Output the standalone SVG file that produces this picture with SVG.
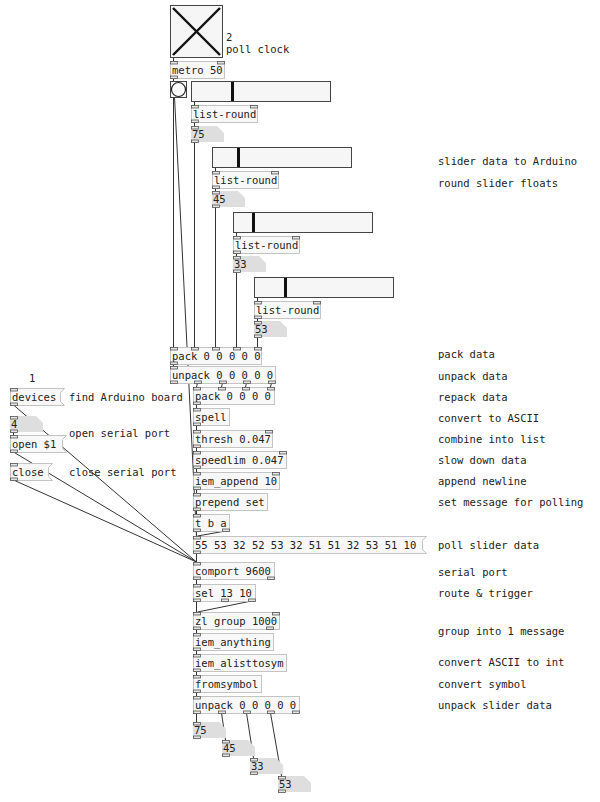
<svg xmlns="http://www.w3.org/2000/svg" width="600" height="802" viewBox="0 0 600 802">
<style>
.obj{fill:#f8f8f8;stroke:#c4c4c4;stroke-width:1}
.nb{fill:#dedede;stroke:none}
.io{fill:#e4e4e4;stroke:#555;stroke-width:0.8}
.gui{fill:#f6f6f6;stroke:#444;stroke-width:1}
.t{font-family:"DejaVu Sans Mono","Liberation Mono",monospace;font-size:10.5px;fill:#222}
.cm{font-family:"DejaVu Sans Mono","Liberation Mono",monospace;font-size:10.5px;fill:#222}
.wire{stroke:#333;stroke-width:1;fill:none}
</style>
<rect width="600" height="802" fill="#ffffff"/>

<g id="connectors">
<line class="wire" x1="173.5" y1="57" x2="173.5" y2="61"/>
<line class="wire" x1="173.5" y1="78" x2="173.5" y2="81"/>
<line class="wire" x1="173.5" y1="97" x2="173.5" y2="347"/>
<line class="wire" x1="174.5" y1="97" x2="196.5" y2="536"/>
<line class="wire" x1="194.5" y1="101" x2="194.5" y2="105"/>
<line class="wire" x1="194.5" y1="122" x2="194.5" y2="126"/>
<line class="wire" x1="194.5" y1="142" x2="194.5" y2="347"/>
<line class="wire" x1="215.5" y1="167" x2="215.5" y2="171"/>
<line class="wire" x1="215.5" y1="188" x2="215.5" y2="191"/>
<line class="wire" x1="215.5" y1="207" x2="215.5" y2="347"/>
<line class="wire" x1="236.5" y1="232" x2="236.5" y2="236"/>
<line class="wire" x1="236.5" y1="253" x2="236.5" y2="256"/>
<line class="wire" x1="236.5" y1="272" x2="236.5" y2="347"/>
<line class="wire" x1="257.5" y1="297" x2="257.5" y2="301"/>
<line class="wire" x1="257.5" y1="318" x2="257.5" y2="321"/>
<line class="wire" x1="257.5" y1="337" x2="257.5" y2="347"/>
<line class="wire" x1="173.5" y1="364" x2="173.5" y2="366"/>
<line class="wire" x1="197.5" y1="383" x2="196.5" y2="387"/>
<line class="wire" x1="222.5" y1="383" x2="221.5" y2="387"/>
<line class="wire" x1="246.5" y1="383" x2="245.5" y2="387"/>
<line class="wire" x1="271.5" y1="383" x2="270.5" y2="387"/>
<line class="wire" x1="196.5" y1="404" x2="196.5" y2="408"/>
<line class="wire" x1="196.5" y1="425" x2="196.5" y2="430"/>
<line class="wire" x1="196.5" y1="447" x2="196.5" y2="451"/>
<line class="wire" x1="196.5" y1="468" x2="196.5" y2="472"/>
<line class="wire" x1="196.5" y1="489" x2="196.5" y2="493"/>
<line class="wire" x1="196.5" y1="510" x2="196.5" y2="514"/>
<line class="wire" x1="196.5" y1="531" x2="196.5" y2="536"/>
<line class="wire" x1="225.5" y1="531" x2="197.5" y2="536"/>
<line class="wire" x1="196.5" y1="553" x2="196.5" y2="562"/>
<line class="wire" x1="13.5" y1="405" x2="196.5" y2="562"/>
<line class="wire" x1="13.5" y1="432" x2="13.5" y2="435"/>
<line class="wire" x1="13.5" y1="452" x2="196.5" y2="562"/>
<line class="wire" x1="13.5" y1="480" x2="196.5" y2="562"/>
<line class="wire" x1="196.5" y1="579" x2="196.5" y2="584"/>
<line class="wire" x1="196.5" y1="601" x2="196.5" y2="612"/>
<line class="wire" x1="251.5" y1="601" x2="197.5" y2="612"/>
<line class="wire" x1="196.5" y1="629" x2="196.5" y2="633"/>
<line class="wire" x1="196.5" y1="650" x2="196.5" y2="654"/>
<line class="wire" x1="196.5" y1="671" x2="196.5" y2="675"/>
<line class="wire" x1="196.5" y1="692" x2="196.5" y2="696"/>
<line class="wire" x1="196.5" y1="713" x2="196.5" y2="722"/>
<line class="wire" x1="221.5" y1="713" x2="225.5" y2="740"/>
<line class="wire" x1="246.5" y1="713" x2="253.5" y2="758"/>
<line class="wire" x1="270.5" y1="713" x2="281.5" y2="776"/>
</g>

<g id="toggle">
<rect class="gui" x="170.5" y="5.5" width="52" height="52"/>
<line x1="173" y1="8" x2="220" y2="55" stroke="#111" stroke-width="2.4"/>
<line x1="220" y1="8" x2="173" y2="55" stroke="#111" stroke-width="2.4"/>
<text class="t" x="226" y="41">2</text>
<text class="t" x="226" y="53">poll clock</text>
</g>

<g id="metro">
<rect class="obj" x="170.5" y="61.5" width="54" height="17"/>
<rect class="io" x="170.5" y="61.5" width="7" height="2.5"/>
<rect class="io" x="217.5" y="61.5" width="7" height="2.5"/>
<rect class="io" x="170.5" y="76" width="7" height="2.5"/>
<text class="t" x="172" y="74">metro 50</text>
</g>

<g id="bang">
<rect class="gui" x="170.5" y="81.5" width="16" height="16"/>
<circle cx="178.5" cy="89.5" r="7" fill="#fff" stroke="#222" stroke-width="1.2"/>
</g>

<g id="slider1">
<rect class="gui" x="191.5" y="81.5" width="139" height="20"/>
<rect x="231" y="82" width="3" height="19" fill="#111"/>
</g>
<g id="listround1">
<rect class="obj" x="191.5" y="105.5" width="66" height="17"/>
<rect class="io" x="191.5" y="105.5" width="7" height="2.5"/>
<rect class="io" x="250.5" y="105.5" width="7" height="2.5"/>
<rect class="io" x="191.5" y="120" width="7" height="2.5"/>
<text class="t" x="193" y="118">list-round</text>
</g>
<g id="num75">
<path class="nb" d="M191 126H217L224 133V142H191Z"/>
<rect class="io" x="191.5" y="126.5" width="7" height="2.5"/>
<rect class="io" x="191.5" y="140" width="7" height="2.5"/>
<text class="t" x="192" y="138">75</text>
</g>

<g id="slider2">
<rect class="gui" x="212.5" y="147.5" width="139" height="20"/>
<rect x="237" y="148" width="3" height="19" fill="#111"/>
</g>
<g id="listround2">
<rect class="obj" x="212.5" y="171.5" width="66" height="17"/>
<rect class="io" x="212.5" y="171.5" width="7" height="2.5"/>
<rect class="io" x="271.5" y="171.5" width="7" height="2.5"/>
<rect class="io" x="212.5" y="186" width="7" height="2.5"/>
<text class="t" x="214" y="184">list-round</text>
</g>
<g id="num45">
<path class="nb" d="M212 191H238L245 198V207H212Z"/>
<rect class="io" x="212.5" y="191.5" width="7" height="2.5"/>
<rect class="io" x="212.5" y="205" width="7" height="2.5"/>
<text class="t" x="213" y="203">45</text>
</g>

<g id="slider3">
<rect class="gui" x="233.5" y="212.5" width="139" height="20"/>
<rect x="252" y="213" width="3" height="19" fill="#111"/>
</g>
<g id="listround3">
<rect class="obj" x="233.5" y="236.5" width="66" height="17"/>
<rect class="io" x="233.5" y="236.5" width="7" height="2.5"/>
<rect class="io" x="292.5" y="236.5" width="7" height="2.5"/>
<rect class="io" x="233.5" y="251" width="7" height="2.5"/>
<text class="t" x="235" y="249">list-round</text>
</g>
<g id="num33">
<path class="nb" d="M233 256H259L266 263V272H233Z"/>
<rect class="io" x="233.5" y="256.5" width="7" height="2.5"/>
<rect class="io" x="233.5" y="270" width="7" height="2.5"/>
<text class="t" x="234" y="268">33</text>
</g>

<g id="slider4">
<rect class="gui" x="254.5" y="277.5" width="139" height="20"/>
<rect x="284" y="278" width="3" height="19" fill="#111"/>
</g>
<g id="listround4">
<rect class="obj" x="254.5" y="301.5" width="66" height="17"/>
<rect class="io" x="254.5" y="301.5" width="7" height="2.5"/>
<rect class="io" x="313.5" y="301.5" width="7" height="2.5"/>
<rect class="io" x="254.5" y="316" width="7" height="2.5"/>
<text class="t" x="256" y="314">list-round</text>
</g>
<g id="num53">
<path class="nb" d="M254 321H280L287 328V337H254Z"/>
<rect class="io" x="254.5" y="321.5" width="7" height="2.5"/>
<rect class="io" x="254.5" y="335" width="7" height="2.5"/>
<text class="t" x="255" y="333">53</text>
</g>

<g id="pack">
<rect class="obj" x="170.5" y="347.5" width="91" height="17"/>
<rect class="io" x="170.5" y="347.5" width="7" height="2.5"/>
<rect class="io" x="191.5" y="347.5" width="7" height="2.5"/>
<rect class="io" x="212.5" y="347.5" width="7" height="2.5"/>
<rect class="io" x="233.5" y="347.5" width="7" height="2.5"/>
<rect class="io" x="254.5" y="347.5" width="7" height="2.5"/>
<rect class="io" x="170.5" y="362" width="7" height="2.5"/>
<text class="t" x="172" y="360">pack 0 0 0 0 0</text>
</g>

<g id="unpack1">
<rect class="obj" x="170.5" y="366.5" width="105" height="17"/>
<rect class="io" x="170.5" y="366.5" width="7" height="2.5"/>
<rect class="io" x="170.5" y="381" width="7" height="2.5"/>
<rect class="io" x="194.5" y="381" width="7" height="2.5"/>
<rect class="io" x="219.5" y="381" width="7" height="2.5"/>
<rect class="io" x="243.5" y="381" width="7" height="2.5"/>
<rect class="io" x="268.5" y="381" width="7" height="2.5"/>
<text class="t" x="172" y="379">unpack 0 0 0 0 0</text>
</g>

<g id="pack2">
<rect class="obj" x="193.5" y="387.5" width="81" height="17"/>
<rect class="io" x="193.5" y="387.5" width="7" height="2.5"/>
<rect class="io" x="218.5" y="387.5" width="7" height="2.5"/>
<rect class="io" x="242.5" y="387.5" width="7" height="2.5"/>
<rect class="io" x="267.5" y="387.5" width="7" height="2.5"/>
<rect class="io" x="193.5" y="402" width="7" height="2.5"/>
<text class="t" x="195" y="400">pack 0 0 0 0</text>
</g>

<g id="spell">
<rect class="obj" x="193.5" y="408.5" width="36" height="17"/>
<rect class="io" x="193.5" y="408.5" width="7" height="2.5"/>
<rect class="io" x="193.5" y="423" width="7" height="2.5"/>
<text class="t" x="195" y="421">spell</text>
</g>

<g id="thresh">
<rect class="obj" x="193.5" y="430.5" width="79" height="17"/>
<rect class="io" x="193.5" y="430.5" width="7" height="2.5"/>
<rect class="io" x="265.5" y="430.5" width="7" height="2.5"/>
<rect class="io" x="193.5" y="445" width="7" height="2.5"/>
<text class="t" x="195" y="443">thresh 0.047</text>
</g>

<g id="speedlim">
<rect class="obj" x="193.5" y="451.5" width="93" height="17"/>
<rect class="io" x="193.5" y="451.5" width="7" height="2.5"/>
<rect class="io" x="279.5" y="451.5" width="7" height="2.5"/>
<rect class="io" x="193.5" y="466" width="7" height="2.5"/>
<text class="t" x="195" y="464">speedlim 0.047</text>
</g>

<g id="iemappend">
<rect class="obj" x="193.5" y="472.5" width="86" height="17"/>
<rect class="io" x="193.5" y="472.5" width="7" height="2.5"/>
<rect class="io" x="272.5" y="472.5" width="7" height="2.5"/>
<rect class="io" x="193.5" y="487" width="7" height="2.5"/>
<text class="t" x="195" y="485">iem_append 10</text>
</g>

<g id="prependset">
<rect class="obj" x="193.5" y="493.5" width="74" height="17"/>
<rect class="io" x="193.5" y="493.5" width="7" height="2.5"/>
<rect class="io" x="193.5" y="508" width="7" height="2.5"/>
<text class="t" x="195" y="506">prepend set</text>
</g>

<g id="tba">
<rect class="obj" x="193.5" y="514.5" width="36" height="17"/>
<rect class="io" x="193.5" y="514.5" width="7" height="2.5"/>
<rect class="io" x="193.5" y="529" width="7" height="2.5"/>
<rect class="io" x="222.5" y="529" width="7" height="2.5"/>
<text class="t" x="195" y="527">t b a</text>
</g>

<g id="pollmsg">
<path class="obj" d="M193.5 536.5H426.5L422.5 540.5V549.5L426.5 553.5H193.5Z"/>
<rect class="io" x="193.5" y="536.5" width="7" height="2.5"/>
<rect class="io" x="193.5" y="551" width="7" height="2.5"/>
<text class="t" x="195" y="549">55 53 32 52 53 32 51 51 32 53 51 10</text>
</g>

<g id="comport">
<rect class="obj" x="193.5" y="562.5" width="81" height="17"/>
<rect class="io" x="193.5" y="562.5" width="7" height="2.5"/>
<rect class="io" x="193.5" y="577" width="7" height="2.5"/>
<rect class="io" x="267.5" y="577" width="7" height="2.5"/>
<text class="t" x="195" y="575">comport 9600</text>
</g>

<g id="sel">
<rect class="obj" x="193.5" y="584.5" width="62" height="17"/>
<rect class="io" x="193.5" y="584.5" width="7" height="2.5"/>
<rect class="io" x="193.5" y="599" width="7" height="2.5"/>
<rect class="io" x="221.5" y="599" width="7" height="2.5"/>
<rect class="io" x="248.5" y="599" width="7" height="2.5"/>
<text class="t" x="195" y="597">sel 13 10</text>
</g>

<g id="zlgroup">
<rect class="obj" x="193.5" y="612.5" width="86" height="17"/>
<rect class="io" x="193.5" y="612.5" width="7" height="2.5"/>
<rect class="io" x="272.5" y="612.5" width="7" height="2.5"/>
<rect class="io" x="193.5" y="627" width="7" height="2.5"/>
<rect class="io" x="266.5" y="627" width="7" height="2.5"/>
<text class="t" x="195" y="625">zl group 1000</text>
</g>

<g id="iemanything">
<rect class="obj" x="193.5" y="633.5" width="80" height="17"/>
<rect class="io" x="193.5" y="633.5" width="7" height="2.5"/>
<rect class="io" x="193.5" y="648" width="7" height="2.5"/>
<text class="t" x="195" y="646">iem_anything</text>
</g>

<g id="iemalisttosym">
<rect class="obj" x="193.5" y="654.5" width="93" height="17"/>
<rect class="io" x="193.5" y="654.5" width="7" height="2.5"/>
<rect class="io" x="193.5" y="669" width="7" height="2.5"/>
<text class="t" x="195" y="667">iem_alisttosym</text>
</g>

<g id="fromsymbol">
<rect class="obj" x="193.5" y="675.5" width="68" height="17"/>
<rect class="io" x="193.5" y="675.5" width="7" height="2.5"/>
<rect class="io" x="193.5" y="690" width="7" height="2.5"/>
<text class="t" x="195" y="688">fromsymbol</text>
</g>

<g id="unpack2">
<rect class="obj" x="193.5" y="696.5" width="106" height="17"/>
<rect class="io" x="193.5" y="696.5" width="7" height="2.5"/>
<rect class="io" x="193.5" y="711" width="7" height="2.5"/>
<rect class="io" x="218.5" y="711" width="7" height="2.5"/>
<rect class="io" x="243.5" y="711" width="7" height="2.5"/>
<rect class="io" x="267.5" y="711" width="7" height="2.5"/>
<rect class="io" x="292.5" y="711" width="7" height="2.5"/>
<text class="t" x="195" y="709">unpack 0 0 0 0 0</text>
</g>

<g id="out75">
<path class="nb" d="M193 722H219L226 729V738H193Z"/>
<rect class="io" x="193.5" y="722.5" width="7" height="2.5"/>
<rect class="io" x="193.5" y="736" width="7" height="2.5"/>
<text class="t" x="194" y="734">75</text>
</g>
<g id="out45">
<path class="nb" d="M222 740H248L255 747V756H222Z"/>
<rect class="io" x="222.5" y="740.5" width="7" height="2.5"/>
<rect class="io" x="222.5" y="754" width="7" height="2.5"/>
<text class="t" x="223" y="752">45</text>
</g>
<g id="out33">
<path class="nb" d="M250 758H276L283 765V774H250Z"/>
<rect class="io" x="250.5" y="758.5" width="7" height="2.5"/>
<rect class="io" x="250.5" y="772" width="7" height="2.5"/>
<text class="t" x="251" y="770">33</text>
</g>
<g id="out53">
<path class="nb" d="M278 776H304L311 783V792H278Z"/>
<rect class="io" x="278.5" y="776.5" width="7" height="2.5"/>
<rect class="io" x="278.5" y="790" width="7" height="2.5"/>
<text class="t" x="279" y="788">53</text>
</g>

<g id="devices">
<text class="t" x="29" y="382">1</text>
<path class="obj" d="M10.5 388.5H64.5L60.5 392.5V401.5L64.5 405.5H10.5Z"/>
<rect class="io" x="10.5" y="388.5" width="7" height="2.5"/>
<rect class="io" x="10.5" y="403" width="7" height="2.5"/>
<text class="t" x="12" y="401">devices</text>
</g>
<g id="num4">
<path class="nb" d="M10 416H36L43 423V432H10Z"/>
<rect class="io" x="10.5" y="416.5" width="7" height="2.5"/>
<rect class="io" x="10.5" y="430" width="7" height="2.5"/>
<text class="t" x="11" y="428">4</text>
</g>
<g id="open">
<path class="obj" d="M10.5 435.5H66.5L62.5 439.5V448.5L66.5 452.5H10.5Z"/>
<rect class="io" x="10.5" y="435.5" width="7" height="2.5"/>
<rect class="io" x="10.5" y="450" width="7" height="2.5"/>
<text class="t" x="12" y="448">open $1</text>
</g>
<g id="close">
<path class="obj" d="M10.5 463.5H52.5L48.5 467.5V476.5L52.5 480.5H10.5Z"/>
<rect class="io" x="10.5" y="463.5" width="7" height="2.5"/>
<rect class="io" x="10.5" y="478" width="7" height="2.5"/>
<text class="t" x="12" y="476">close</text>
</g>

<g id="comments">
<text class="cm" x="69" y="401">find Arduino board</text>
<text class="cm" x="69" y="437">open serial port</text>
<text class="cm" x="69" y="476">close serial port</text>
<text class="cm" x="438" y="165">slider data to Arduino</text>
<text class="cm" x="438" y="187">round slider floats</text>
<text class="cm" x="438" y="358">pack data</text>
<text class="cm" x="438" y="380">unpack data</text>
<text class="cm" x="438" y="401">repack data</text>
<text class="cm" x="438" y="422">convert to ASCII</text>
<text class="cm" x="438" y="443">combine into list</text>
<text class="cm" x="438" y="464">slow down data</text>
<text class="cm" x="438" y="485">append newline</text>
<text class="cm" x="438" y="506">set message for polling</text>
<text class="cm" x="438" y="549">poll slider data</text>
<text class="cm" x="438" y="576">serial port</text>
<text class="cm" x="438" y="597">route &amp; trigger</text>
<text class="cm" x="438" y="635">group into 1 message</text>
<text class="cm" x="438" y="666">convert ASCII to int</text>
<text class="cm" x="438" y="688">convert symbol</text>
<text class="cm" x="438" y="709">unpack slider data</text>
</g>
</svg>
